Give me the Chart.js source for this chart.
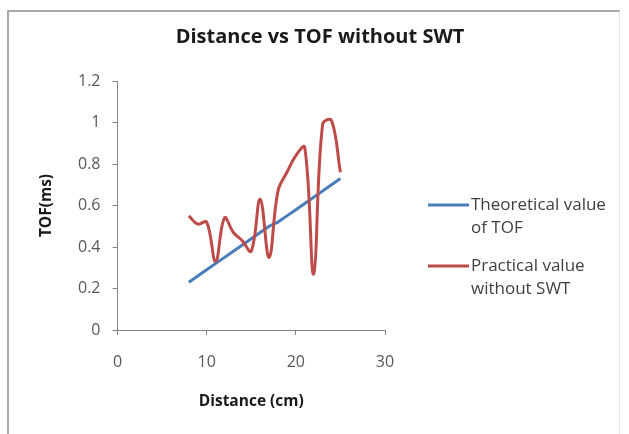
<!DOCTYPE html>
<html>
<head>
<meta charset="utf-8">
<script src="https://cdn.jsdelivr.net/npm/chart.js@4/dist/chart.umd.min.js"></script>
<style>
  html, body { margin: 0; padding: 0; background: #ffffff; }
  #wrap { position: relative; width: 629px; height: 434px; }
  #frame {
    position: absolute; left: 7px; top: 10px; width: 613px; height: 430px;
    border-top: 2px solid #a9a9a9; border-left: 2px solid #a9a9a9; border-right: 1px solid #e6e6e6;
    box-sizing: border-box; pointer-events: none;
  }
  canvas { position: absolute; left: 0; top: 0; }
</style>
</head>
<body>
<div id="wrap">
  <canvas id="chart" width="629" height="434"></canvas>
  <div id="frame"></div>
</div>
<script>
// Distance (cm)
const distances = [8, 9, 10, 11, 12, 13, 14, 15, 16, 17, 18, 19, 20, 21, 22, 23, 24, 25];
// Theoretical time of flight (ms)
const theoreticalTof = [0.23, 0.26, 0.29, 0.32, 0.35, 0.38, 0.41, 0.44, 0.47, 0.50, 0.52, 0.55, 0.58, 0.61, 0.64, 0.67, 0.70, 0.73];
// Measured time of flight without SWT (ms)
const practicalTof = [0.55, 0.51, 0.52, 0.33, 0.54, 0.47, 0.43, 0.38, 0.63, 0.35, 0.67, 0.76, 0.84, 0.88, 0.27, 0.99, 1.01, 0.76];

const xTicks = [0, 10, 20, 30];
const yTicks = [0, 0.2, 0.4, 0.6, 0.8, 1, 1.2];

const seriesLabels = [
  ['Theoretical value', 'of TOF'],
  ['Practical value', 'without SWT']
];

const FONT = '"Open Sans", sans-serif';

const toPoints = (xs, ys) => xs.map((x, i) => ({ x: x, y: ys[i] }));

// Two-line legend to the right of the plot
const sideLegend = {
  id: 'sideLegend',
  afterDraw(chart) {
    const ctx = chart.ctx;
    const rows = [205, 266];
    ctx.save();
    chart.data.datasets.forEach((ds, i) => {
      const y = rows[i];
      ctx.strokeStyle = ds.borderColor;
      ctx.lineWidth = 3;
      ctx.beginPath();
      ctx.moveTo(428, y);
      ctx.lineTo(469, y);
      ctx.stroke();
      ctx.fillStyle = '#404040';
      ctx.font = '17px ' + FONT;
      ctx.textBaseline = 'middle';
      ctx.textAlign = 'left';
      seriesLabels[i].forEach((line, j) => {
        ctx.fillText(line, 471, y + j * 23);
      });
    });
    ctx.restore();
  }
};

const tickText = v => String(Number(v.toFixed(1)));

new Chart(document.getElementById('chart'), {
  type: 'line',
  data: {
    datasets: [
      {
        label: seriesLabels[0].join(' '),
        data: toPoints(distances, theoreticalTof),
        borderColor: '#4a7ebb',
        borderWidth: 3,
        pointRadius: 0,
        tension: 0,
        order: 1
      },
      {
        label: seriesLabels[1].join(' '),
        data: toPoints(distances, practicalTof),
        borderColor: '#be4b48',
        borderWidth: 3,
        pointRadius: 0,
        tension: 0.4,
        order: 0
      }
    ]
  },
  plugins: [sideLegend],
  options: {
    responsive: false,
    animation: false,
    events: [],
    layout: { padding: { left: 11, right: 0, top: 10, bottom: 0 } },
    plugins: {
      legend: { display: false },
      tooltip: { enabled: false },
      title: {
        display: true,
        text: 'Distance vs TOF without SWT',
        color: '#1a1a1a',
        font: { family: FONT, size: 20, weight: 'bold', lineHeight: 1.2 },
        padding: { top: 15, bottom: 32 }
      }
    },
    scales: {
      x: {
        type: 'linear',
        min: 0,
        max: 30,
        afterBuildTicks: s => { s.ticks = xTicks.map(v => ({ value: v })); },
        afterFit: s => { s.height = 104; },
        ticks: { color: '#595959', font: { family: FONT, size: 16 }, padding: 18, callback: tickText },
        grid: { display: true, drawOnChartArea: false, drawTicks: true, tickLength: 5, color: '#868686' },
        border: { color: '#868686', width: 1 },
        title: {
          display: true,
          text: 'Distance (cm)',
          color: '#1a1a1a',
          font: { family: FONT, size: 15.5, weight: 'bold', lineHeight: 1.2 },
          padding: { top: 0, bottom: 23 }
        }
      },
      y: {
        type: 'linear',
        min: 0,
        max: 1.2,
        afterBuildTicks: s => { s.ticks = yTicks.map(v => ({ value: v })); },
        afterFit: s => { s.width = 106.5; },
        ticks: { color: '#595959', font: { family: FONT, size: 16 }, padding: 12, callback: tickText },
        grid: { display: true, drawOnChartArea: false, drawTicks: true, tickLength: 5, color: '#868686' },
        border: { color: '#868686', width: 1 },
        title: {
          display: true,
          text: 'TOF(ms)',
          color: '#1a1a1a',
          font: { family: FONT, size: 15.5, weight: 'bold', lineHeight: 1.2 },
          padding: { top: 26, bottom: 0 }
        }
      },
      side: {
        type: 'linear',
        position: 'right',
        display: true,
        afterFit: s => { s.width = 244; },
        ticks: { display: false },
        grid: { display: false },
        border: { display: false }
      }
    }
  }
});
</script>
</body>
</html>
